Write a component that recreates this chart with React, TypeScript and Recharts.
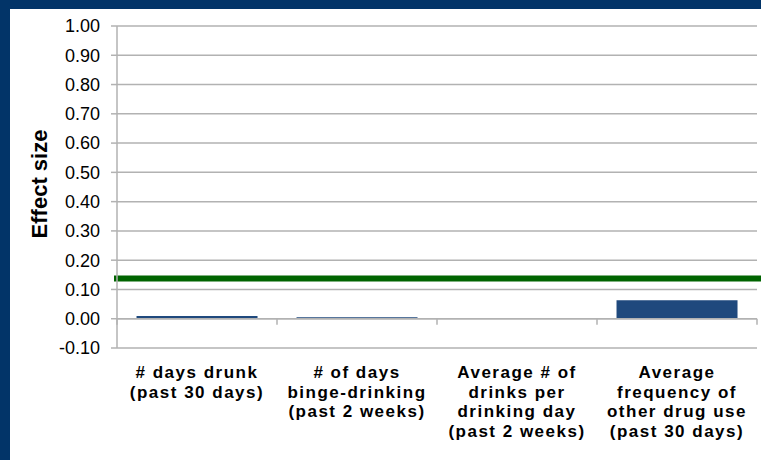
import React from "react"
import {
  BarChart,
  Bar,
  XAxis,
  YAxis,
  CartesianGrid,
  ReferenceLine,
} from "recharts"

const categories = [
  ["# days drunk", "(past 30 days)"],
  ["# of days", "binge-drinking", "(past 2 weeks)"],
  ["Average # of", "drinks per", "drinking day", "(past 2 weeks)"],
  ["Average", "frequency of", "other drug use", "(past 30 days)"],
]
const effectSizes = [0.009, 0.005, 0.002, 0.063]
const threshold = 0.137
const yTicks = [-0.1, 0, 0.1, 0.2, 0.3, 0.4, 0.5, 0.6, 0.7, 0.8, 0.9, 1.0]

const FONT = "'Liberation Sans', Arial, sans-serif"
const NAVY = "#023468"
const GRID = "#b2b2b2"

const data = categories.map((lines, i) => ({
  key: String(i),
  effect: effectSizes[i],
}))

function CategoryTick({ x, y, payload }: any) {
  const lines = categories[Number(payload.value)]
  return (
    <text
      x={x}
      y={y + 30}
      textAnchor="middle"
      fontFamily={FONT}
      fontSize={17}
      fontWeight="bold"
      letterSpacing={1.5}
      fill="#000"
    >
      {lines.map((l, i) => (
        <tspan key={i} x={x} dy={i === 0 ? 0 : 19.5}>
          {l}
        </tspan>
      ))}
    </text>
  )
}

// horizontal axis drawn at zero, with tick marks on category boundaries
function ZeroAxis(props: any) {
  const { x1, x2, y1 } = props
  const step = (x2 - x1) / categories.length
  const marks = Array.from({ length: categories.length + 1 }, (_, i) => x1 + i * step)
  return (
    <g>
      <line x1={x1} x2={x2} y1={y1} y2={y1} stroke={GRID} strokeWidth={1.5} />
      {marks.map((mx, i) => (
        <line key={i} x1={mx} x2={mx} y1={y1} y2={y1 + 6} stroke={GRID} strokeWidth={1.5} />
      ))}
    </g>
  )
}

function ThresholdLine(props: any) {
  const { x1, x2, y1 } = props
  return <line x1={x1 - 3} x2={x2 + 8} y1={y1} y2={y1} stroke="#006400" strokeWidth={6} />
}

export default function App() {
  return (
    <div style={{ position: "absolute", left: 0, top: 0, width: 761, height: 460, background: NAVY }}>
      <div style={{ position: "absolute", left: 10, top: 9, right: 0, bottom: 0, background: "#fff" }} />
      <div style={{ position: "absolute", left: 0, top: 0 }}>
        <BarChart
          width={761}
          height={460}
          data={data}
          margin={{ top: 26, right: 4, bottom: 52, left: 11 }}
          barCategoryGap="12.2%"
        >
          <CartesianGrid vertical={false} stroke={GRID} strokeWidth={1.5} />
          <XAxis
            dataKey="key"
            height={60}
            axisLine={false}
            tickLine={false}
            tickSize={0}
            tickMargin={0}
            interval={0}
            tick={<CategoryTick />}
          />
          <YAxis
            width={106}
            domain={[-0.1, 1.0]}
            ticks={yTicks}
            interval={0}
            tickFormatter={(v: number) => v.toFixed(2)}
            tick={{ fontFamily: FONT, fontSize: 18, fill: "#000" }}
            tickSize={6}
            tickMargin={11}
            stroke={GRID}
            axisLine={{ stroke: GRID, strokeWidth: 1.5 }}
            tickLine={{ stroke: GRID, strokeWidth: 1.5 }}
            label={{
              content: ({ viewBox }: any) => {
                const cx = viewBox.x + 28
                const cy = viewBox.y + viewBox.height / 2 - 3
                return (
                  <text
                    x={cx}
                    y={cy}
                    transform={`rotate(-90, ${cx}, ${cy})`}
                    textAnchor="middle"
                    dominantBaseline="central"
                    fontFamily={FONT}
                    fontSize={22}
                    fontWeight="bold"
                    fill="#000"
                  >
                    Effect size
                  </text>
                )
              },
            }}
          />
          <Bar dataKey="effect" fill="#1f497d" isAnimationActive={false} />
          <ReferenceLine y={0} shape={<ZeroAxis />} />
          <ReferenceLine y={threshold} shape={<ThresholdLine />} />
        </BarChart>
      </div>
    </div>
  )
}
